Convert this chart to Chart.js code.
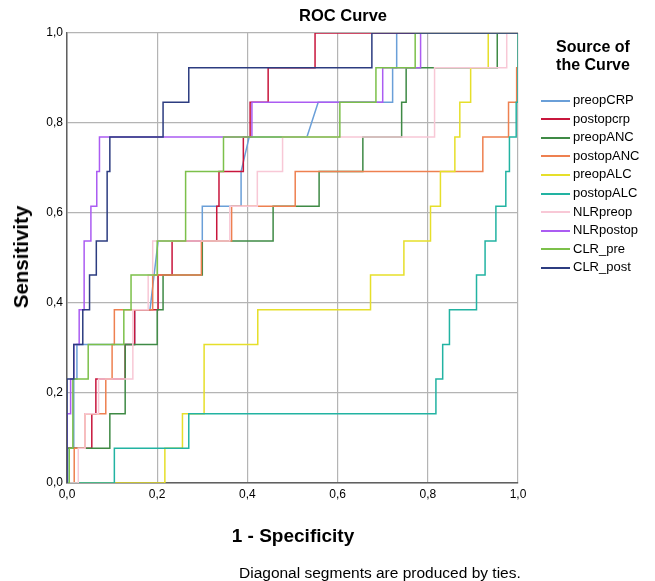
<!DOCTYPE html>
<html>
<head>
<meta charset="utf-8">
<script src="https://cdn.jsdelivr.net/npm/chart.js@4/dist/chart.umd.min.js"></script>
<style>
  body { margin: 0; background: #fff; font-family: "Liberation Sans", Arial, sans-serif; }
  #wrap { position: relative; width: 655px; height: 581px; }
  #rocChart { position: absolute; left: 0; top: 0; }
  .txt { position: absolute; color: #000; white-space: nowrap; }
  #title { left: 343px; top: 6px; transform: translateX(-50%); font-weight: bold; font-size: 16.5px; }
  #yTitle { left: 21px; top: 257px; transform: translate(-50%, -50%) rotate(-90deg); font-weight: bold; font-size: 20.5px; }
  #xTitle { left: 293px; top: 525px; transform: translateX(-50%); font-weight: bold; font-size: 19px; }
  #note { left: 239px; top: 564px; font-size: 15.5px; }
  #legendTitle { left: 593px; top: 38px; transform: translateX(-50%); font-weight: bold; font-size: 16px; text-align: center; line-height: 18px; }
  .legItem { position: absolute; left: 541px; font-size: 13px; height: 16px; line-height: 16px; }
  .legItem span.line { display: inline-block; width: 29px; height: 2px; vertical-align: middle; margin-right: 3px; }
</style>
</head>
<body>
<div id="wrap">
  <canvas id="rocChart" width="655" height="581"></canvas>
  <div id="title" class="txt">ROC Curve</div>
  <div id="yTitle" class="txt">Sensitivity</div>
  <div id="xTitle" class="txt">1 - Specificity</div>
  <div id="note" class="txt">Diagonal segments are produced by ties.</div>
  <div id="legendTitle" class="txt">Source of<br>the Curve</div>
  <div id="legend"></div>
</div>
<script>
// series names and colours (legend order)
const seriesNames = ['preopCRP', 'postopcrp', 'preopANC', 'postopANC', 'preopALC', 'postopALC', 'NLRpreop', 'NLRpostop', 'CLR_pre', 'CLR_post'];
const seriesColors = ['#6a9fd8', '#c8163c', '#3f8a45', '#ee8050', '#e6df2a', '#22b3a2', '#f8c8d6', '#ab5cf2', '#7cc04a', '#2c3c80'];

// axis ticks
const tickValues = [0, 0.2, 0.4, 0.6, 0.8, 1.0];

// 1 - specificity / sensitivity
const preopCRP_x = [0, 0.005, 0.005, 0.015, 0.015, 0.022, 0.022, 0.15, 0.15, 0.184, 0.202, 0.30, 0.30, 0.386, 0.386, 0.404, 0.532, 0.557, 0.722, 0.722, 0.731, 0.731, 1];
const preopCRP_y = [0, 0, 0.077, 0.077, 0.231, 0.231, 0.308, 0.308, 0.385, 0.385, 0.538, 0.538, 0.615, 0.615, 0.692, 0.769, 0.769, 0.846, 0.846, 0.923, 0.923, 1, 1];

const postopcrp_x = [0, 0, 0.055, 0.055, 0.064, 0.064, 0.129, 0.129, 0.15, 0.15, 0.202, 0.202, 0.233, 0.233, 0.332, 0.332, 0.337, 0.337, 0.391, 0.391, 0.406, 0.406, 0.446, 0.446, 0.55, 0.55, 1];
const postopcrp_y = [0, 0.077, 0.077, 0.154, 0.154, 0.231, 0.231, 0.308, 0.308, 0.385, 0.385, 0.462, 0.462, 0.538, 0.538, 0.615, 0.615, 0.692, 0.692, 0.769, 0.769, 0.846, 0.846, 0.923, 0.923, 1, 1];

const preopANC_x = [0, 0, 0.095, 0.095, 0.129, 0.129, 0.2, 0.2, 0.213, 0.213, 0.30, 0.30, 0.457, 0.457, 0.559, 0.559, 0.656, 0.656, 0.742, 0.742, 0.752, 0.752, 0.954, 0.954, 1];
const preopANC_y = [0, 0.077, 0.077, 0.154, 0.154, 0.308, 0.308, 0.385, 0.385, 0.462, 0.462, 0.538, 0.538, 0.615, 0.615, 0.692, 0.692, 0.769, 0.769, 0.846, 0.846, 0.923, 0.923, 1, 1];

const postopANC_x = [0, 0.016, 0.016, 0.04, 0.04, 0.086, 0.086, 0.1, 0.1, 0.105, 0.105, 0.19, 0.19, 0.298, 0.298, 0.365, 0.365, 0.506, 0.506, 0.922, 0.922, 0.979, 0.979, 0.997, 0.997, 1, 1];
const postopANC_y = [0, 0, 0.077, 0.077, 0.154, 0.154, 0.231, 0.231, 0.308, 0.308, 0.385, 0.385, 0.462, 0.462, 0.538, 0.538, 0.615, 0.615, 0.692, 0.692, 0.769, 0.769, 0.846, 0.846, 0.923, 0.923, 1];

const preopALC_x = [0, 0.217, 0.217, 0.256, 0.256, 0.304, 0.304, 0.423, 0.423, 0.673, 0.673, 0.747, 0.747, 0.806, 0.806, 0.828, 0.828, 0.86, 0.86, 0.871, 0.871, 0.895, 0.895, 0.934, 0.934, 1];
const preopALC_y = [0, 0, 0.077, 0.077, 0.154, 0.154, 0.308, 0.308, 0.385, 0.385, 0.462, 0.462, 0.538, 0.538, 0.615, 0.615, 0.692, 0.692, 0.769, 0.769, 0.846, 0.846, 0.923, 0.923, 1, 1];

const postopALC_x = [0, 0.105, 0.105, 0.27, 0.27, 0.818, 0.818, 0.833, 0.833, 0.848, 0.848, 0.908, 0.908, 0.927, 0.927, 0.951, 0.951, 0.973, 0.973, 0.981, 0.981, 0.996, 0.996, 1, 1];
const postopALC_y = [0, 0, 0.077, 0.077, 0.154, 0.154, 0.231, 0.231, 0.308, 0.308, 0.385, 0.385, 0.462, 0.462, 0.538, 0.538, 0.615, 0.615, 0.692, 0.692, 0.769, 0.769, 0.846, 0.846, 1];

const NLRpreop_x = [0, 0.025, 0.025, 0.04, 0.04, 0.07, 0.07, 0.146, 0.146, 0.18, 0.18, 0.19, 0.19, 0.361, 0.361, 0.422, 0.422, 0.478, 0.478, 0.815, 0.815, 0.975, 0.975, 1];
const NLRpreop_y = [0, 0, 0.077, 0.077, 0.154, 0.154, 0.231, 0.231, 0.385, 0.385, 0.462, 0.462, 0.538, 0.538, 0.615, 0.615, 0.692, 0.692, 0.769, 0.769, 0.923, 0.923, 1, 1];

const NLRpostop_x = [0, 0, 0.008, 0.008, 0.015, 0.015, 0.027, 0.027, 0.038, 0.038, 0.053, 0.053, 0.066, 0.066, 0.072, 0.072, 0.41, 0.41, 0.70, 0.70, 0.784, 0.784, 1];
const NLRpostop_y = [0, 0.154, 0.154, 0.231, 0.231, 0.308, 0.308, 0.385, 0.385, 0.538, 0.538, 0.615, 0.615, 0.692, 0.692, 0.769, 0.769, 0.846, 0.846, 0.923, 0.923, 1, 1];

const CLR_pre_x = [0, 0.005, 0.005, 0.013, 0.013, 0.047, 0.047, 0.126, 0.126, 0.142, 0.142, 0.2, 0.2, 0.263, 0.263, 0.347, 0.347, 0.605, 0.605, 0.685, 0.685, 0.772, 0.772, 1];
const CLR_pre_y = [0, 0, 0.077, 0.077, 0.231, 0.231, 0.308, 0.308, 0.385, 0.385, 0.462, 0.462, 0.538, 0.538, 0.692, 0.692, 0.769, 0.769, 0.846, 0.846, 0.923, 0.923, 1, 1];

const CLR_post_x = [0, 0, 0.015, 0.015, 0.035, 0.035, 0.05, 0.05, 0.065, 0.065, 0.089, 0.089, 0.095, 0.095, 0.213, 0.213, 0.27, 0.27, 0.676, 0.676, 1];
const CLR_post_y = [0, 0.231, 0.231, 0.308, 0.308, 0.385, 0.385, 0.462, 0.462, 0.538, 0.538, 0.692, 0.692, 0.769, 0.769, 0.846, 0.846, 0.923, 0.923, 1, 1];

const seriesX = [preopCRP_x, postopcrp_x, preopANC_x, postopANC_x, preopALC_x, postopALC_x, NLRpreop_x, NLRpostop_x, CLR_pre_x, CLR_post_x];
const seriesY = [preopCRP_y, postopcrp_y, preopANC_y, postopANC_y, preopALC_y, postopALC_y, NLRpreop_y, NLRpostop_y, CLR_pre_y, CLR_post_y];

const fmt = v => v.toFixed(1).replace('.', ',');

const datasets = seriesNames.map((name, i) => ({
    label: name,
    data: seriesX[i].map((x, j) => ({ x: x, y: seriesY[i][j] })),
    borderColor: seriesColors[i],
    backgroundColor: seriesColors[i],
    borderWidth: 1.5,
    showLine: true,
    pointRadius: 0,
    fill: false,
    order: seriesNames.length - i
}));

const chart = new Chart(document.getElementById('rocChart'), {
    type: 'scatter',
    data: { datasets: datasets },
    options: {
        responsive: false,
        animation: false,
        layout: { padding: { left: 0, right: 137, top: 33, bottom: 0 } },
        plugins: { legend: { display: false }, tooltip: { enabled: false } },
        scales: {
            x: {
                type: 'linear', min: 0, max: 1,
                afterFit: s => { s.height = 98; },
                afterBuildTicks: s => { s.ticks = tickValues.map(v => ({ value: v })); },
                ticks: { callback: fmt, color: '#000', padding: 4, font: { family: 'Liberation Sans', size: 12 } },
                grid: { color: '#b4b4b4', lineWidth: 1.2, drawTicks: false },
                border: { color: '#606060', width: 1.5 }
            },
            y: {
                type: 'linear', min: 0, max: 1,
                afterFit: s => { s.width = 67; },
                afterBuildTicks: s => { s.ticks = tickValues.map(v => ({ value: v })); },
                ticks: { callback: fmt, color: '#000', padding: 4, font: { family: 'Liberation Sans', size: 12 } },
                grid: { color: '#b4b4b4', lineWidth: 1.2, drawTicks: false },
                border: { color: '#606060', width: 1.5 }
            }
        }
    }
});

// legend built from the same series lists
const legendEl = document.getElementById('legend');
seriesNames.forEach((name, i) => {
    const item = document.createElement('div');
    item.className = 'legItem';
    item.style.top = (92 + i * 18.6) + 'px';
    const line = document.createElement('span');
    line.className = 'line';
    line.style.background = seriesColors[i];
    item.appendChild(line);
    item.appendChild(document.createTextNode(name));
    legendEl.appendChild(item);
});
</script>
</body>
</html>
